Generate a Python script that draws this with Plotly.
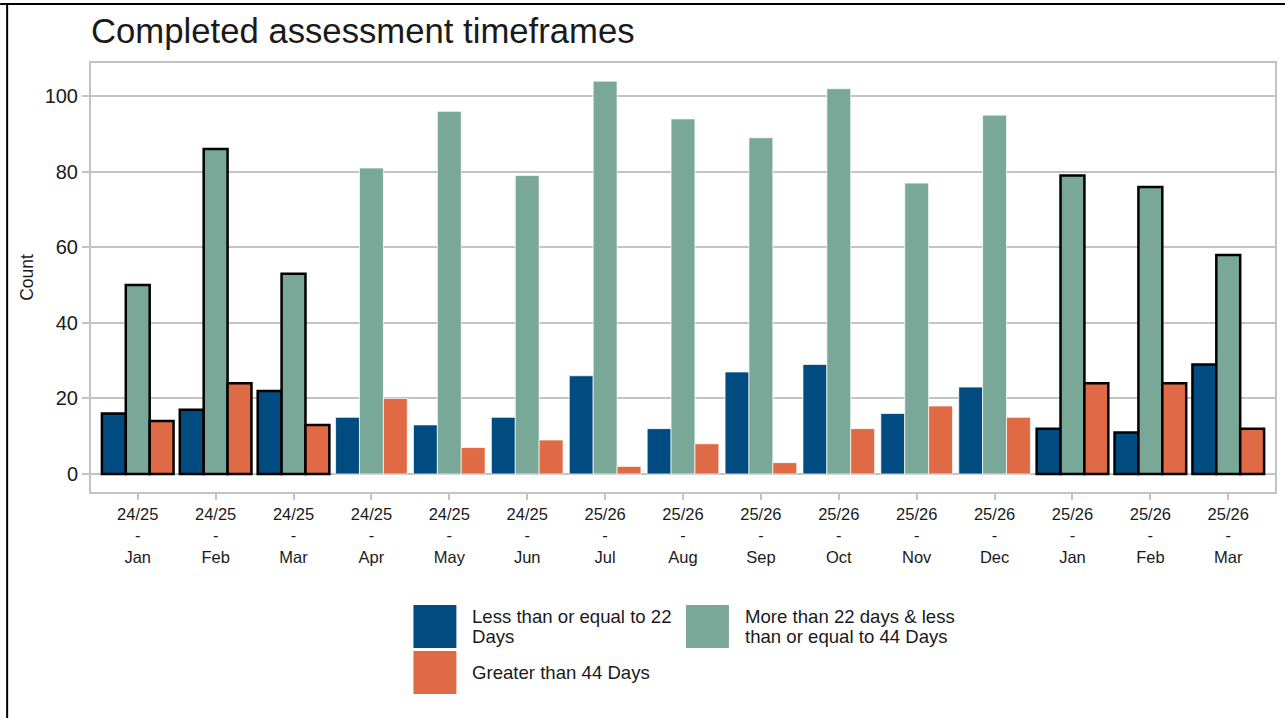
import textwrap
import plotly.graph_objects as go

# ---------------- data ----------------
years = ["24/25"] * 6 + ["25/26"] * 9
months = ["Jan", "Feb", "Mar", "Apr", "May", "Jun", "Jul", "Aug", "Sep",
          "Oct", "Nov", "Dec", "Jan", "Feb", "Mar"]
series_names = [
    "Less than or equal to 22 Days",
    "More than 22 days & less than or equal to 44 Days",
    "Greater than 44 Days",
]
le_22_days = [16, 17, 22, 15, 13, 15, 26, 12, 27, 29, 16, 23, 12, 11, 29]
days_22_to_44 = [50, 86, 53, 81, 96, 79, 104, 94, 89, 102, 77, 95, 79, 76, 58]
gt_44_days = [14, 24, 13, 20, 7, 9, 2, 8, 3, 12, 18, 15, 24, 24, 12]
highlight_months = ["Jan", "Feb", "Mar"]

# ---------------- styling ----------------
W, H = 1287, 718
L, R, T, B = 91, 10, 63, 226
colors = ["#004B80", "#79A898", "#E06A45"]
FONT = "Liberation Sans, Arial, sans-serif"
TXT = "#1a1a1a"
GRID = "#C3C3C3"

categories = [f"{y}<br>-<br>{m}" for y, m in zip(years, months)]
is_hl = [m in highlight_months for m in months]
line_colors = ["#000000" if h else "rgba(255,255,255,0.7)" for h in is_hl]
line_widths = [2.5 if h else 1 for h in is_hl]

fig = go.Figure()
for name, vals, col in zip(series_names, [le_22_days, days_22_to_44, gt_44_days], colors):
    fig.add_trace(go.Bar(
        x=categories, y=vals, name=name,
        marker=dict(color=col, line=dict(color=line_colors, width=line_widths)),
        showlegend=False,
    ))

pw, ph = W - L - R, H - T - B


def px(x):
    return (x - L) / pw


def py(y):
    return (H - B - y) / ph


shapes = []
annotations = []

# custom legend with large swatches
legend_pos = [(414, 605), (687, 605), (414, 651)]  # swatch top-left in pixels
SW, SH = 43, 43
for name, col, (x0, y0) in zip(series_names, colors, legend_pos):
    shapes.append(dict(type="rect", xref="paper", yref="paper",
                       x0=px(x0), x1=px(x0 + SW), y0=py(y0), y1=py(y0 + SH),
                       fillcolor=col, line=dict(width=0)))
    lines = textwrap.wrap(name, 24)
    cy = y0 + SH / 2
    spacing = 20
    start = cy - spacing * (len(lines) - 1) / 2
    for i, ln in enumerate(lines):
        annotations.append(dict(
            xref="paper", yref="paper", x=px(x0 + 57), y=py(start + i * spacing),
            xanchor="left", yanchor="middle", text=ln, showarrow=False,
            font=dict(family=FONT, size=18.6, color=TXT),
        ))

# outer black border (top and left) of the original image
shapes.append(dict(type="line", xref="paper", yref="paper",
                   x0=px(0), x1=px(W), y0=py(4), y1=py(4),
                   line=dict(color="#000000", width=2)))
shapes.append(dict(type="line", xref="paper", yref="paper",
                   x0=px(7), x1=px(7), y0=py(4), y1=py(H),
                   line=dict(color="#000000", width=2)))

fig.update_layout(
    width=W, height=H,
    margin=dict(l=L, r=R, t=T, b=B, pad=0),
    paper_bgcolor="white", plot_bgcolor="white",
    font=dict(family=FONT, color=TXT),
    title=dict(text="Completed assessment timeframes", x=px(91), xref="paper",
               xanchor="left", y=1 - 31 / H, yref="container", yanchor="middle",
               font=dict(family=FONT, size=34.7, color=TXT)),
    barmode="group", bargap=0.08, bargroupgap=0,
    shapes=shapes, annotations=annotations,
)
fig.update_xaxes(
    range=[-0.6, 14.6], showgrid=False, zeroline=False,
    showline=True, mirror=True, linecolor=GRID, linewidth=2,
    ticks="outside", ticklen=6, tickwidth=2, tickcolor=GRID,
    tickfont=dict(family=FONT, size=16.5, color=TXT),
)
fig.update_yaxes(
    range=[-4.77, 108.8], tickvals=[0, 20, 40, 60, 80, 100],
    showgrid=True, gridcolor=GRID, gridwidth=2, zeroline=False,
    showline=True, mirror=True, linecolor=GRID, linewidth=2,
    ticks="outside", ticklen=7, tickwidth=2, tickcolor=GRID,
    tickfont=dict(family=FONT, size=20, color=TXT),
    title=dict(text="Count", standoff=7, font=dict(family=FONT, size=17.5, color=TXT)),
)

fig.write_html("out.html", config={"displayModeBar": False},
               post_script="document.body.style.margin='0';document.body.style.overflow='hidden';")
